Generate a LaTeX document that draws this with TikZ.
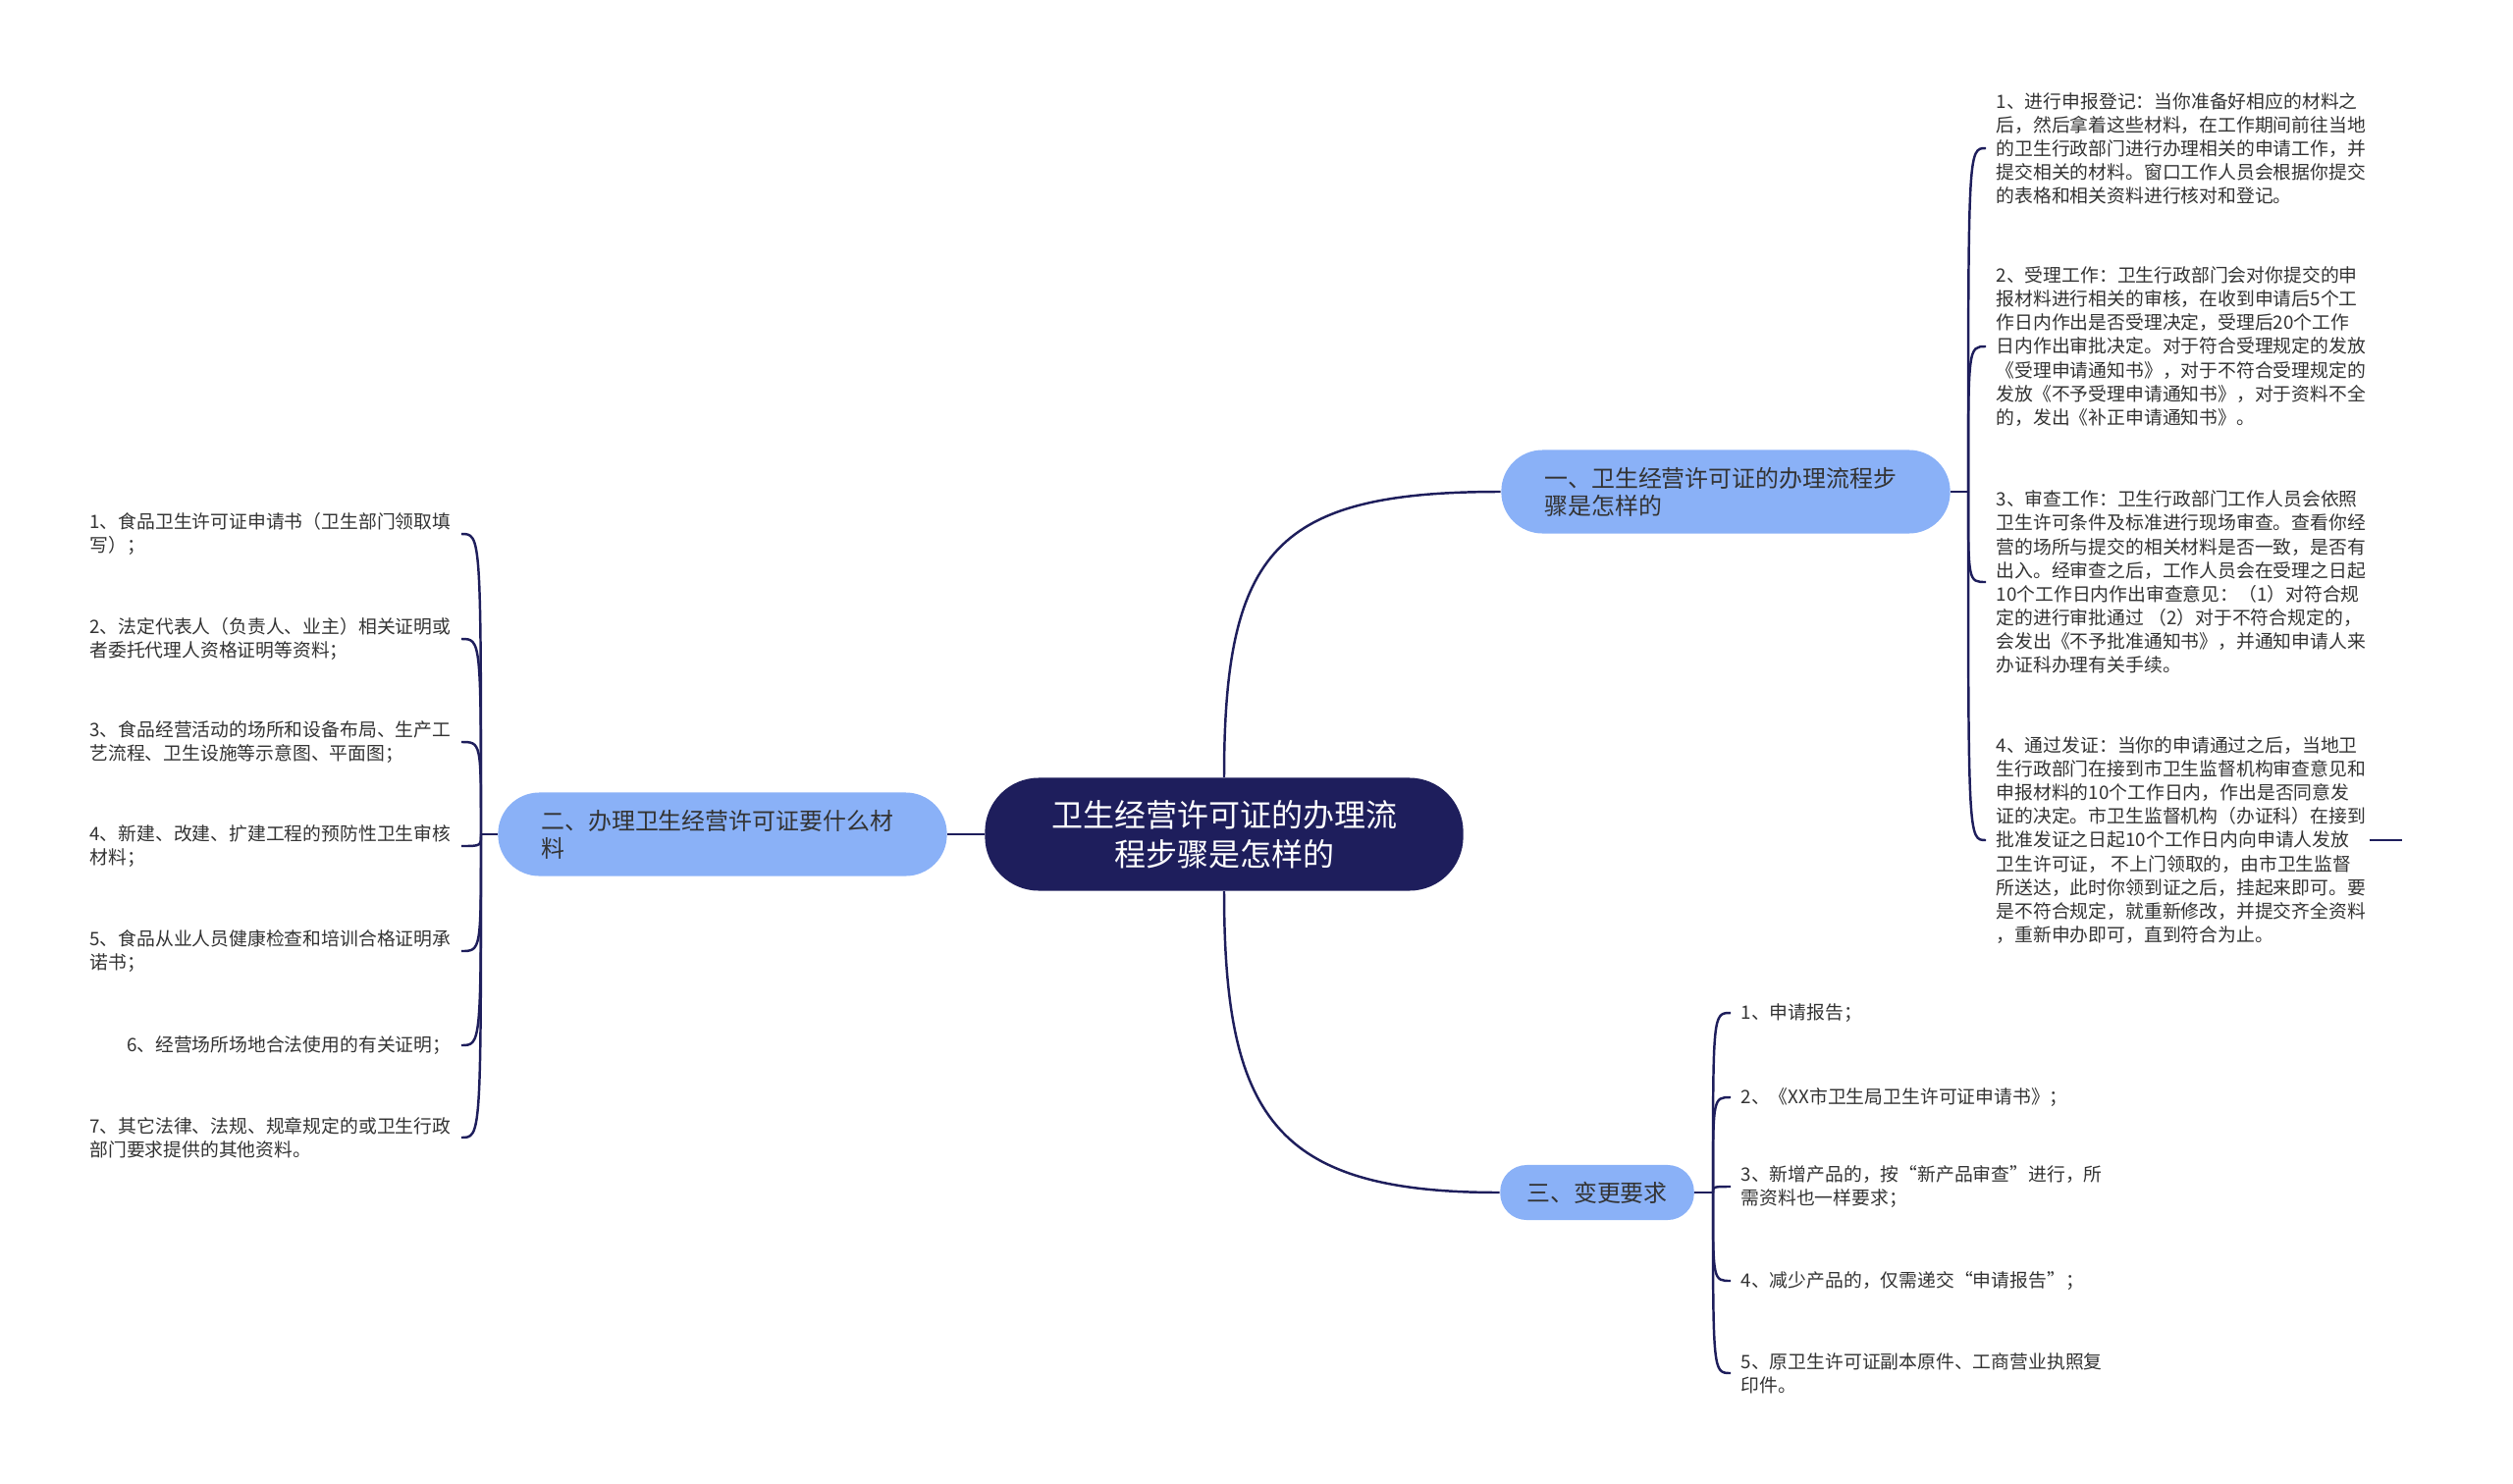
\documentclass[tikz,border=0pt]{standalone}
\usepackage{fontspec}
\setmainfont{Noto Sans CJK SC}
\definecolor{rootnavy}{HTML}{1E1E5C}
\definecolor{topicblue}{HTML}{8AB1F7}
\definecolor{leafgray}{HTML}{333333}
\tikzset{
  root/.style={rectangle, rounded corners=0.55cm, fill=rootnavy, text=white,
    minimum width=4.87cm, minimum height=1.15cm, align=center,
    font=\fontsize{9.1}{11.4}\selectfont},
  topic/.style={rectangle, rounded corners=0.42cm, fill=topicblue, text=leafgray,
    minimum height=0.85cm, inner xsep=0.44cm, align=left,
    font=\fontsize{6.8}{8}\selectfont},
  leaf/.style={inner xsep=0.1cm, inner ysep=0pt, align=left, text=leafgray,
    font=\fontsize{5.35}{6.85}\selectfont},
  link/.style={draw=rootnavy, line width=0.7pt},
}
\begin{document}
\begin{tikzpicture}[x=0.01cm, y=-0.01cm]
                \useasboundingbox (0,0) rectangle (2560,1512);
                %% Central topic and branches
                \node[root] (root) at (1247,850) {卫生经营许可证的办理流\\程步骤是怎样的};
                \node[topic, text width=3.69cm] (proc) at (1758,501) {一、卫生经营许可证的办理流程步\\骤是怎样的};
                \node[topic, text width=3.69cm] (docs) at (736,850) {二、办理卫生经营许可证要什么材\\料};
                \node[topic, rounded corners=0.27cm, minimum height=0.56cm, inner xsep=0.27cm] (chg) at (1627,1215) {三、变更要求};
                \coordinate (procfork) at (2005,501);
                \coordinate (docsfork) at (490,850);
                \coordinate (chgfork) at (1745,1215);
                %% Leaves of branch one
                \node[leaf, anchor=west] (proc1) at (2023,151) {1、进行申报登记：当你准备好相应的材料之\\后，然后拿着这些材料，在工作期间前往当地\\的卫生行政部门进行办理相关的申请工作，并\\提交相关的材料。窗口工作人员会根据你提交\\的表格和相关资料进行核对和登记。};
                \node[leaf, anchor=west] (proc2) at (2023,353) {2、受理工作：卫生行政部门会对你提交的申\\报材料进行相关的审核，在收到申请后5个工\\作日内作出是否受理决定，受理后20个工作\\日内作出审批决定。对于符合受理规定的发放\\《受理申请通知书》，对于不符合受理规定的\\发放《不予受理申请通知书》，对于资料不全\\的，发出《补正申请通知书》。};
                \node[leaf, anchor=west] (proc3) at (2023,593) {3、审查工作：卫生行政部门工作人员会依照\\卫生许可条件及标准进行现场审查。查看你经\\营的场所与提交的相关材料是否一致，是否有\\出入。经审查之后，工作人员会在受理之日起\\10个工作日内作出审查意见：（1）对符合规\\定的进行审批通过 （2）对于不符合规定的，\\会发出《不予批准通知书》，并通知申请人来\\办证科办理有关手续。};
                \node[leaf, anchor=west] (proc4) at (2023,856) {4、通过发证：当你的申请通过之后，当地卫\\生行政部门在接到市卫生监督机构审查意见和\\申报材料的10个工作日内，作出是否同意发\\证的决定。市卫生监督机构（办证科）在接到\\批准发证之日起10个工作日内向申请人发放\\卫生许可证， 不上门领取的，由市卫生监督\\所送达，此时你领到证之后，挂起来即可。要\\是不符合规定，就重新修改，并提交齐全资料\\，重新申办即可，直到符合为止。};
                %% Leaves of branch two
                \node[leaf, anchor=east] (docs1) at (470,544) {1、食品卫生许可证申请书（卫生部门领取填\\写）；};
                \node[leaf, anchor=east] (docs2) at (470,651) {2、法定代表人（负责人、业主）相关证明或\\者委托代理人资格证明等资料；};
                \node[leaf, anchor=east] (docs3) at (470,756) {3、食品经营活动的场所和设备布局、生产工\\艺流程、卫生设施等示意图、平面图；};
                \node[leaf, anchor=east] (docs4) at (470,862) {4、新建、改建、扩建工程的预防性卫生审核\\材料；};
                \node[leaf, anchor=east] (docs5) at (470,969) {5、食品从业人员健康检查和培训合格证明承\\诺书；};
                \node[leaf, anchor=east] (docs6) at (470,1065) {6、经营场所场地合法使用的有关证明；};
                \node[leaf, anchor=east] (docs7) at (470,1159) {7、其它法律、法规、规章规定的或卫生行政\\部门要求提供的其他资料。};
                %% Leaves of branch three
                \node[leaf, anchor=west] (chg1) at (1763,1032) {1、申请报告；};
                \node[leaf, anchor=west] (chg2) at (1763,1118) {2、《XX市卫生局卫生许可证申请书》；};
                \node[leaf, anchor=west] (chg3) at (1763,1209) {3、新增产品的，按“新产品审查”进行，所\\需资料也一样要求；};
                \node[leaf, anchor=west] (chg4) at (1763,1305) {4、减少产品的，仅需递交“申请报告”；};
                \node[leaf, anchor=west] (chg5) at (1763,1399) {5、原卫生许可证副本原件、工商营业执照复\\印件。};
                %% Connectors
                \draw[link] (root.north) .. controls (1247,560) and (1300,501) .. (proc.west);
                \draw[link] (root.south) .. controls (1247,1140) and (1300,1215) .. (chg.west);
                \draw[link] (root.west) -- (docs.east);
                \draw[link] (proc.east) -- (procfork);
                \draw[link] (docs.west) -- (docsfork);
                \draw[link] (chg.east) -- (chgfork);
                \foreach \leafname in {proc1,proc2,proc3,proc4}
                    \draw[link] (procfork) .. controls (procfork |- \leafname.west) .. (\leafname.west);
                \foreach \leafname in {docs1,docs2,docs3,docs4,docs5,docs6,docs7}
                    \draw[link] (docsfork) .. controls (docsfork |- \leafname.east) .. (\leafname.east);
                \foreach \leafname in {chg1,chg2,chg3,chg4,chg5}
                    \draw[link] (chgfork) .. controls (chgfork |- \leafname.west) .. (\leafname.west);
                \draw[link] ([xshift=-0.07cm]proc4.east) -- ++(33,0);
            \end{tikzpicture}
\end{document}
